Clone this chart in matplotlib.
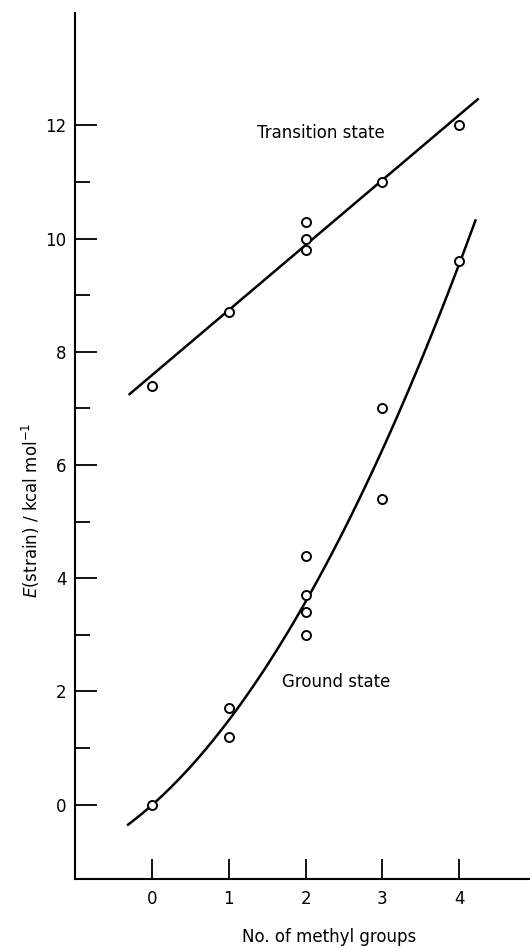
import matplotlib
matplotlib.use("Agg")
import matplotlib.pyplot as plt
import numpy as np

# strain energies (kcal/mol) vs number of methyl groups
ts_x = np.array([0, 1, 2, 2, 2, 3, 4])
ts_y = np.array([7.4, 8.7, 10.3, 10.0, 9.8, 11.0, 12.0])

gs_x = np.array([0, 1, 1, 2, 2, 2, 2, 3, 3, 4])
gs_y = np.array([0.0, 1.7, 1.2, 4.4, 3.7, 3.4, 3.0, 7.0, 5.4, 9.6])

x_ticks = [0, 1, 2, 3, 4]
y_ticks = [0, 2, 4, 6, 8, 10, 12]
y_minor = [1, 3, 5, 7, 9, 11]

plt.rcParams['font.family'] = ['DejaVu Sans']
plt.rcParams['mathtext.fontset'] = 'dejavusans'

fig = plt.figure(figsize=(5.3, 9.48), dpi=100)
ax = fig.add_axes([0.1415, 0.0725, 0.8585, 0.914])

# fitted lines drawn by hand in the original; use least-squares fits
xs_ts = np.linspace(-0.29, 4.24, 50)
p_ts = np.poly1d(np.polyfit(ts_x, ts_y, 1))
ax.plot(xs_ts, p_ts(xs_ts), color='black', lw=1.8, zorder=2)

xs_gs = np.linspace(-0.31, 4.21, 100)
p_gs = np.poly1d(np.polyfit(gs_x, gs_y, 2))
ax.plot(xs_gs, p_gs(xs_gs), color='black', lw=1.8, zorder=2)

ax.plot(ts_x, ts_y, 'o', ms=6.5, mfc='white', mec='black', mew=1.4, zorder=3, clip_on=False)
ax.plot(gs_x, gs_y, 'o', ms=6.5, mfc='white', mec='black', mew=1.4, zorder=3, clip_on=False)

ax.text(1.365, 11.86, 'Transition state', fontsize=12, ha='left', va='center')
ax.text(1.69, 2.17, 'Ground state', fontsize=12, ha='left', va='center')

ax.set_xlim(-1.0, 4.92)
ax.set_ylim(-1.32, 13.99)

ax.spines['top'].set_visible(False)
ax.spines['right'].set_visible(False)
ax.spines['left'].set_linewidth(1.5)
ax.spines['bottom'].set_linewidth(1.5)

ax.set_xticks(x_ticks)
ax.set_yticks(y_ticks)
ax.set_yticks(y_minor, minor=True)
ax.tick_params(axis='both', which='major', direction='in', length=16, width=1.3,
               labelsize=12, pad=6)
ax.tick_params(axis='y', which='minor', direction='in', length=11, width=1.3)
ax.tick_params(axis='x', which='major', length=14.5, pad=8)

ax.set_xlabel('No. of methyl groups', fontsize=12)
ax.set_ylabel(r'$\it{E}$(strain) / kcal mol$^{-1}$', fontsize=12)
ax.xaxis.set_label_coords(0.558, -0.056)
ax.yaxis.set_label_coords(-0.072, 0.426)

fig.savefig('out.png', dpi=100)
